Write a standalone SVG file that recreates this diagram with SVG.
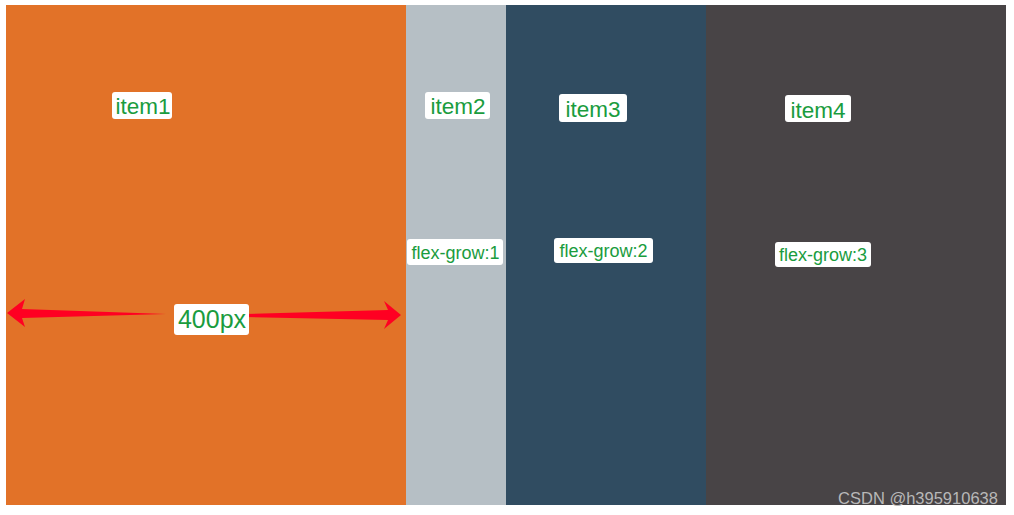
<svg xmlns="http://www.w3.org/2000/svg" width="1014" height="515" viewBox="0 0 1014 515">
<style>
.lbl{fill:#ffffff}
.t{font-family:"Liberation Sans",Arial,sans-serif;fill:#1a9c3e;text-anchor:middle}
.big{font-size:22.500px}
.small{font-size:18px}
.arrow{fill:#ff0022}
</style>
<rect x="0" y="0" width="1014" height="515" fill="#ffffff"/>
<g id="item1"><rect x="6" y="5" width="400" height="500" fill="#e27228"/>
<rect class="lbl" x="112" y="92" width="60" height="27" rx="3"/><text class="t big" x="143" y="114">item1</text></g>
<g id="item2"><rect x="406" y="5" width="100" height="500" fill="#b6bfc5"/>
<rect class="lbl" x="425" y="92" width="65" height="27" rx="3"/><text class="t big" x="458" y="114">item2</text>
<rect class="lbl" x="407" y="239" width="96" height="26" rx="3"/><text class="t small" x="455.500" y="258.500">flex-grow:1</text></g>
<g id="item3"><rect x="506" y="5" width="200" height="500" fill="#304c61"/>
<rect class="lbl" x="559" y="94" width="68" height="28" rx="3"/><text class="t big" x="593" y="116.500">item3</text>
<rect class="lbl" x="554" y="238" width="99" height="25" rx="3"/><text class="t small" x="603.500" y="256.500">flex-grow:2</text></g>
<g id="item4"><rect x="706" y="5" width="300" height="500" fill="#484446"/>
<rect class="lbl" x="785" y="95" width="66" height="27" rx="3"/><text class="t big" x="818" y="117.500">item4</text>
<rect class="lbl" x="775" y="242" width="96" height="25" rx="3"/><text class="t small" x="823" y="260.500">flex-grow:3</text></g>
<g id="connectors">
<path class="arrow" d="M7,313 L25,299 L22,309 L166,314 L22,318 L25,327 Z"/>
<path class="arrow" d="M245,314 L388,310 L384,301 L401,315 L384,329 L388,320 L245,317 Z"/>
</g>
<g id="dimension"><rect class="lbl" x="174" y="304" width="75" height="31" rx="3"/><text class="t" style="font-size:25px" x="212" y="328">400px</text></g>
<text x="918" y="504" style="font-family:'Liberation Sans',Arial,sans-serif;font-size:16.500px;fill:#b8b8b8;text-anchor:middle">CSDN @h395910638</text>
</svg>
